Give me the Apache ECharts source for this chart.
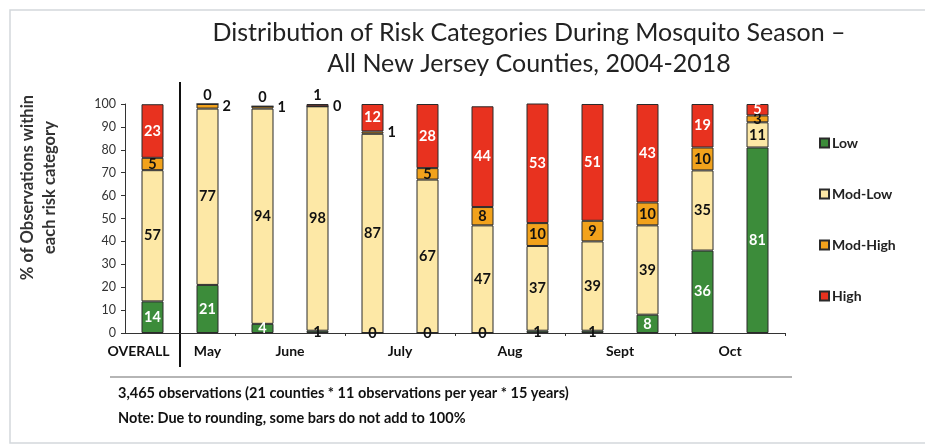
<!DOCTYPE html>
<html>
<head>
<meta charset="utf-8">
<script src="https://cdn.jsdelivr.net/npm/echarts@6/dist/echarts.min.js"></script>
<style>
  html, body { margin: 0; padding: 0; background: #fff; }
  #chart { width: 925px; height: 446px; }
</style>
</head>
<body>
<div id="chart"></div>
<script>
// ---- data ----
const bars = ['Overall', 'May', 'June (1)', 'June (2)', 'July (1)', 'July (2)', 'Aug (1)', 'Aug (2)', 'Sept (1)', 'Sept (2)', 'Oct (1)', 'Oct (2)'];
const low     = [13.8, 21,  4,  1,  0,  0,  0,  1,  1,  8, 36, 81];
const modLow  = [57.3, 77, 94, 98, 87, 67, 47, 37, 39, 39, 35, 11];
const modHigh = [ 5.4,  2,  1,  0,  1,  5,  8, 10,  9, 10, 10,  3];
const high    = [23.4,  0,  0,  1, 12, 28, 44, 53, 51, 43, 19,  5];
const groupLabels = ['OVERALL', 'May', 'June', 'July', 'Aug', 'Sept', 'Oct'];
const groupSizes  = [1, 1, 2, 2, 2, 2, 2];
const yTicks = [0, 10, 20, 30, 40, 50, 60, 70, 80, 90, 100];
const seriesNames = ['Low', 'Mod-Low', 'Mod-High', 'High'];
const titleText = 'Distribution of Risk Categories During Mosquito Season \u2013\nAll New Jersey Counties, 2004-2018';
const yName = '% of Observations within\neach risk category';
const notes = ['3,465 observations (21 counties * 11 observations per year * 15 years)',
               'Note: Due to rounding, some bars do not add to 100%'];

// group centres and boundaries in bar units
const groupCenters = [], groupBounds = [];
let acc = 0;
groupSizes.forEach(n => { groupCenters.push(acc + n / 2); acc += n; groupBounds.push(acc); });

const FONT = 'Lato, "Open Sans", sans-serif';
const colors = ['#3c8c3a', '#fde8a6', '#f2a21c', '#e8321f'];
const labelColors = ['#ffffff', '#111111', '#111111', '#ffffff'];

function build(vals, si) {
  return vals.map(v => {
    const item = { value: v };
    if (si === 0 && v <= 1) item.label = { color: '#111', position: 'inside' };
    if (si === 2 && v <= 2) item.label = { position: 'right', distance: 4 };
    if (si === 3 && v <= 1) item.label = { position: 'top', distance: 1, color: '#111' };
    return item;
  });
}

const chart = echarts.init(document.getElementById('chart'));
const seriesVals = [low, modLow, modHigh, high];

chart.setOption({
  animation: false,
  backgroundColor: '#fff',
  textStyle: { fontFamily: FONT },
  title: {
    text: titleText,
    left: 524, textAlign: 'center', top: 12,
    textStyle: { fontFamily: FONT, fontSize: 25, fontWeight: 'normal', color: '#222', lineHeight: 31 }
  },
  legend: {
    orient: 'vertical', left: 814, top: 131,
    itemWidth: 9, itemHeight: 9, itemGap: 37,
    icon: 'rect',
    textStyle: { fontFamily: FONT, fontSize: 14, fontWeight: 'bold', color: '#222', padding: [0, 0, 0, -2] },
    data: seriesNames
  },
  grid: { left: 125, right: 140, top: 104, bottom: 113 },
  xAxis: [{
    type: 'category', data: bars,
    axisLine: { lineStyle: { color: '#333', width: 1 } },
    axisTick: { show: false }, axisLabel: { show: false }
  }, {
    type: 'value', min: 0, max: bars.length, position: 'bottom',
    axisLine: { show: false }, splitLine: { show: false },
    axisTick: { show: true, customValues: groupBounds.slice(1), length: 3, lineStyle: { color: '#333' } },
    axisLabel: {
      customValues: groupCenters, margin: 11,
      fontFamily: FONT, fontSize: 14, fontWeight: 'bold', color: '#111',
      formatter: v => {
        const i = groupCenters.indexOf(v);
        if (i < 0) return '';
        return i === 0 ? '{first|' + groupLabels[i] + '}' : groupLabels[i];
      },
      rich: { first: { fontFamily: FONT, fontSize: 14, fontWeight: 'bold', color: '#111', padding: [0, 28, 0, 0] } }
    }
  }],
  yAxis: {
    type: 'value', min: 0, max: 100, interval: 10,
    axisLine: { show: true, lineStyle: { color: '#333' } },
    axisTick: { show: true, length: 4, lineStyle: { color: '#333' } },
    splitLine: { show: false },
    axisLabel: { fontFamily: FONT, fontSize: 12.5, color: '#333', margin: 9,
                 customValues: yTicks },
    name: yName, nameLocation: 'middle', nameGap: 64, nameRotate: 90,
    nameTextStyle: { fontFamily: FONT, fontSize: 16.5, fontWeight: 'bold', color: '#333', lineHeight: 22,
                     padding: [0, 0, 0, 62] }
  },
  series: seriesVals.map((vals, si) => ({
    name: seriesNames[si], type: 'bar', stack: 'risk', xAxisIndex: 0,
    barWidth: 22,
    itemStyle: { color: colors[si], borderColor: '#2a2a2a', borderWidth: 1 },
    label: { show: true, position: 'inside', color: labelColors[si],
             fontFamily: FONT, fontSize: 14.5, fontWeight: 'bold',
             formatter: p => String(Math.round(p.value)) },
    data: build(vals, si)
  }))
});

const sepX = chart.convertToPixel({ xAxisIndex: 1 }, groupBounds[0]);
chart.setOption({
  graphic: [
    { type: 'polyline', silent: true, shape: { points: [[935, 10], [10, 10], [10, 443], [935, 443]] },
      style: { stroke: '#d3d8dc', lineWidth: 1.5, fill: null } },
    { type: 'line', silent: true, shape: { x1: sepX, y1: 82, x2: sepX, y2: 367 },
      style: { stroke: '#111', lineWidth: 2 } },
    { type: 'line', silent: true, shape: { x1: 110, y1: 377, x2: 792, y2: 377 },
      style: { stroke: '#b5b5b5', lineWidth: 2 } },
    { type: 'text', silent: true, left: 118, top: 386,
      style: { text: notes[0], font: 'bold 14.5px ' + FONT, fill: '#111' } },
    { type: 'text', silent: true, left: 118, top: 411,
      style: { text: notes[1], font: 'bold 14.5px ' + FONT, fill: '#111' } }
  ]
});
</script>
</body>
</html>
